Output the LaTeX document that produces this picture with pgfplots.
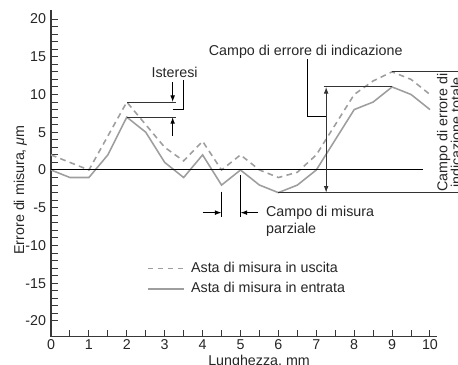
\documentclass[border=0pt]{standalone}
\usepackage{fontspec}
\setmainfont{Liberation Sans}
\usepackage{pgfplots}
\pgfplotsset{compat=1.18}
\usetikzlibrary{arrows.meta}
\definecolor{datagray}{gray}{0.62}
\definecolor{axgray}{gray}{0.22}
\definecolor{anngray}{gray}{0.2}

\begin{document}
\fontsize{10}{12}\selectfont
\begin{tikzpicture}[font=\fontsize{10}{12}\selectfont,
  tip/.style={-{Latex[length=4.6pt,width=3.3pt]}}]
\begin{axis}[
  scale only axis, width=270.2pt, height=228.9pt,
  xmin=0, xmax=10.18, ymin=-22.1, ymax=21.2,
  axis lines=left,
  axis line style={axgray, line width=0.8pt, -},
  xtick={0,...,10}, minor xtick={0.5,1.5,...,9.5},
  ytick={-20,-15,...,20}, minor ytick={-19,...,19},
  tick align=inside,
  major tick length=5pt, minor tick length=5pt,
  tick style={axgray, line width=0.7pt},
  every tick label/.append style={text=black!85},
  /pgf/number format/assume math mode=true,
  xticklabel style={inner sep=2pt},
  clip=false,
  legend style={at={(axis cs:2.525,-12.2)}, anchor=north west,
    draw=none, fill=none, inner sep=0pt, row sep=5.4pt,
    nodes={inner sep=0pt, text=black!85}, column sep=4.2pt},
  legend cell align=left,
  legend image code/.code={\draw[#1] (0pt,0pt) -- (25.6pt,0pt);},
]
\addplot[datagray, line width=1.1pt, dash pattern=on 4pt off 3pt] coordinates {
 (0,2) (0.5,1) (1,0) (1.5,4.5) (2,9) (2.5,6) (3,3) (3.5,1.2) (4,3.8)
 (4.5,0) (5,2) (5.5,0) (6,-1) (6.5,-0.3) (7,2) (7.5,6) (8,10)
 (8.5,11.8) (9,13) (9.5,12) (10,10)};
\addlegendentry{Asta di misura in uscita}
\addplot[datagray, line width=1.1pt] coordinates {
 (0,0) (0.5,-1) (1,-1) (1.5,2) (2,7) (2.5,5) (3,1) (3.5,-1) (4,2)
 (4.5,-2) (5,0) (5.5,-2) (6,-3) (6.5,-2) (7,0) (7.5,4) (8,8)
 (8.5,9) (9,11) (9.5,10) (10,8)};
\addlegendentry{Asta di misura in entrata}

% zero line
\draw[black, line width=0.7pt] (axis cs:0,0) -- (axis cs:9.82,0);

% Isteresi
\draw[anngray, line width=0.7pt] (axis cs:2,9) -- (axis cs:3.29,9);
\draw[anngray, line width=0.7pt] (axis cs:2,7) -- (axis cs:3.29,7);
\draw[black, line width=0.7pt, tip] (axis cs:3.21,11.6) -- (axis cs:3.21,9);
\draw[black, line width=0.7pt, tip] (axis cs:3.21,4.5) -- (axis cs:3.21,7);
\draw[black, line width=0.7pt] (axis cs:3.49,11.9) -- (axis cs:3.49,8.03) -- (axis cs:3.21,8.03);
\node[anchor=base, inner sep=0pt, text=black!85] at (axis cs:3.26,12.24) {Isteresi};

% Campo di errore di indicazione
\node[anchor=base, inner sep=0pt, text=black!85] at (axis cs:6.72,15.23) {Campo di errore di indicazione};
\draw[black, line width=0.7pt] (axis cs:6.77,14.66) -- (axis cs:6.77,7.06) -- (axis cs:7.26,7.06);
\draw[anngray, line width=0.7pt] (axis cs:7.19,11) -- (axis cs:9,11);
\draw[anngray, line width=0.7pt, {Latex[length=4.6pt,width=3.3pt]}-{Latex[length=4.6pt,width=3.3pt]}] (axis cs:7.26,11) -- (axis cs:7.26,-3);
\draw[anngray, line width=0.7pt] (axis cs:6,-3) -- (axis cs:10.8,-3);
\draw[anngray, line width=0.7pt] (axis cs:9,13) -- (axis cs:10.8,13);
\node[rotate=90, anchor=base, inner sep=0pt, text=black!85] at (axis cs:10.456,4.95) {Campo di errore di};
\node[rotate=90, anchor=base, inner sep=0pt, text=black!85] at (axis cs:10.82,4.95) {indicazione totale};

% Campo di misura parziale
\draw[black, line width=0.7pt] (axis cs:4.5,-2.87) -- (axis cs:4.5,-6.2);
\draw[black, line width=0.7pt] (axis cs:5,-0.66) -- (axis cs:5,-6.2);
\draw[black, line width=0.7pt, tip] (axis cs:4.0,-5.65) -- (axis cs:4.5,-5.65);
\draw[black, line width=0.7pt, tip] (axis cs:5.47,-5.65) -- (axis cs:5,-5.65);
\node[anchor=base west, inner sep=0pt, text=black!85] at (axis cs:5.67,-6.18) {Campo di misura};
\node[anchor=base west, inner sep=0pt, text=black!85] at (axis cs:5.67,-8.39) {parziale};

% axis labels
\node[rotate=90, anchor=base, inner sep=0pt, text=black!85] at (axis cs:-0.712,-2.65) {Errore di misura, \textit{μ}m};
\node[anchor=base, inner sep=0pt, text=black!85] at (axis cs:5.49,-25.85) {Lunghezza, mm};

\coordinate (BL) at (axis cs:-1.346,-25.83);
\coordinate (TR) at (axis cs:10.739,22.52);
\end{axis}
\pgfresetboundingbox
\useasboundingbox (BL) rectangle (TR);
\end{tikzpicture}
\end{document}
